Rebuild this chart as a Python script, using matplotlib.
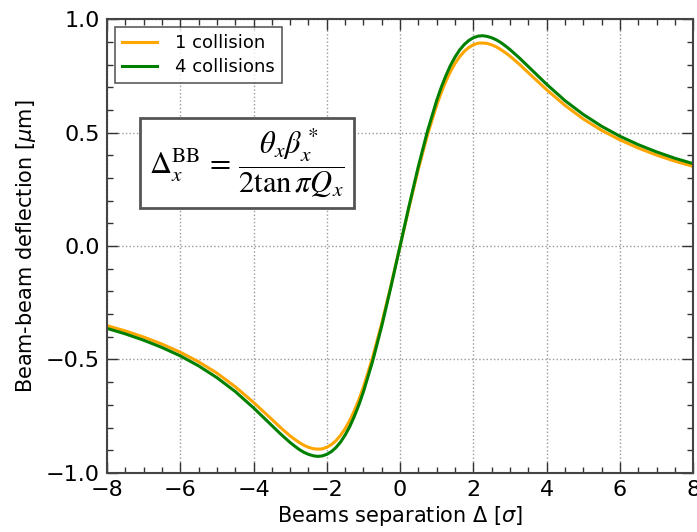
import matplotlib
matplotlib.use("Agg")
import matplotlib.pyplot as plt
from matplotlib.ticker import MultipleLocator

# Beam separation [sigma]
sep_pos = [0.0, 0.25, 0.5, 0.75, 1.0, 1.125, 1.25, 1.375, 1.5, 1.625, 1.75,
           1.875, 2.0, 2.125, 2.25, 2.375, 2.5, 2.625, 2.75, 2.875,
           3.0, 3.25, 3.5, 4.0, 4.5, 5.0, 5.5, 6.0, 6.5, 7.0, 7.5, 8.0]
# Deflection [um], 1 collision (positive side)
one_pos = [0.0, 0.174, 0.340, 0.491, 0.621, 0.677, 0.726, 0.769, 0.805, 0.834,
           0.858, 0.875, 0.887, 0.894, 0.895, 0.893, 0.887, 0.878, 0.866,
           0.852, 0.837, 0.802, 0.764, 0.689, 0.620, 0.560, 0.510, 0.468,
           0.432, 0.401, 0.374, 0.351]
# Deflection [um], 4 collisions
four_pos = [0.0, 0.180, 0.352, 0.508, 0.642, 0.700, 0.751, 0.796, 0.833, 0.864,
            0.888, 0.906, 0.918, 0.925, 0.927, 0.924, 0.918, 0.909, 0.897,
            0.882, 0.866, 0.830, 0.791, 0.713, 0.641, 0.580, 0.528, 0.484,
            0.447, 0.415, 0.387, 0.363]

separation = [-v for v in sep_pos[:0:-1]] + sep_pos
one_collision = [-v for v in one_pos[:0:-1]] + one_pos
four_collisions = [-v for v in four_pos[:0:-1]] + four_pos

labels = ["1 collision", "4 collisions"]
colors = ["#FFA500", "#008000"]

fig = plt.figure(figsize=(6.97, 5.32), dpi=100)
ax = fig.add_axes([0.1535, 0.111, 0.841, 0.853])

ax.plot(separation, one_collision, color=colors[0], lw=2.2, label=labels[0])
ax.plot(separation, four_collisions, color=colors[1], lw=2.2, label=labels[1])

ax.set_xlim(-8, 8)
ax.set_ylim(-1.0, 1.0)
ax.xaxis.set_major_locator(MultipleLocator(2))
ax.xaxis.set_minor_locator(MultipleLocator(0.5))
ax.yaxis.set_major_locator(MultipleLocator(0.5))
ax.yaxis.set_minor_locator(MultipleLocator(0.1))
ax.tick_params(which="both", direction="in", top=True, right=True,
               colors="#333333", labelcolor="black")
ax.tick_params(which="major", length=8, width=1, labelsize=16, pad=5)
ax.tick_params(which="minor", length=4, width=1)
for s in ax.spines.values():
    s.set_color("#444444")
    s.set_linewidth(1.5)

ax.grid(True, which="major", linestyle=":", color="#999999", lw=1)

ax.set_xlabel(r"Beams separation $\Delta$ [$\sigma$]", fontsize=15, labelpad=3)
ax.set_ylabel(r"Beam-beam deflection [$\mu$m]", fontsize=15, labelpad=6)

leg = ax.legend(loc="upper left", fontsize=13, fancybox=False,
                borderaxespad=0.45, handlelength=1.9, borderpad=0.4,
                labelspacing=0.3, handletextpad=1.0)
leg.get_frame().set_edgecolor("#333333")
leg.get_frame().set_linewidth(1.2)

ax.text(0.239, 0.683,
        r"$\Delta_x^{\rm BB}\, =\, \dfrac{\theta_x\beta_x^*}{2\tan\pi Q_x}$",
        transform=ax.transAxes, ha="center", va="center", fontsize=22,
        math_fontfamily="stix",
        bbox=dict(boxstyle="square,pad=0.3", facecolor="white",
                  edgecolor="#555555", linewidth=2))

fig.savefig("out.png", dpi=100)
